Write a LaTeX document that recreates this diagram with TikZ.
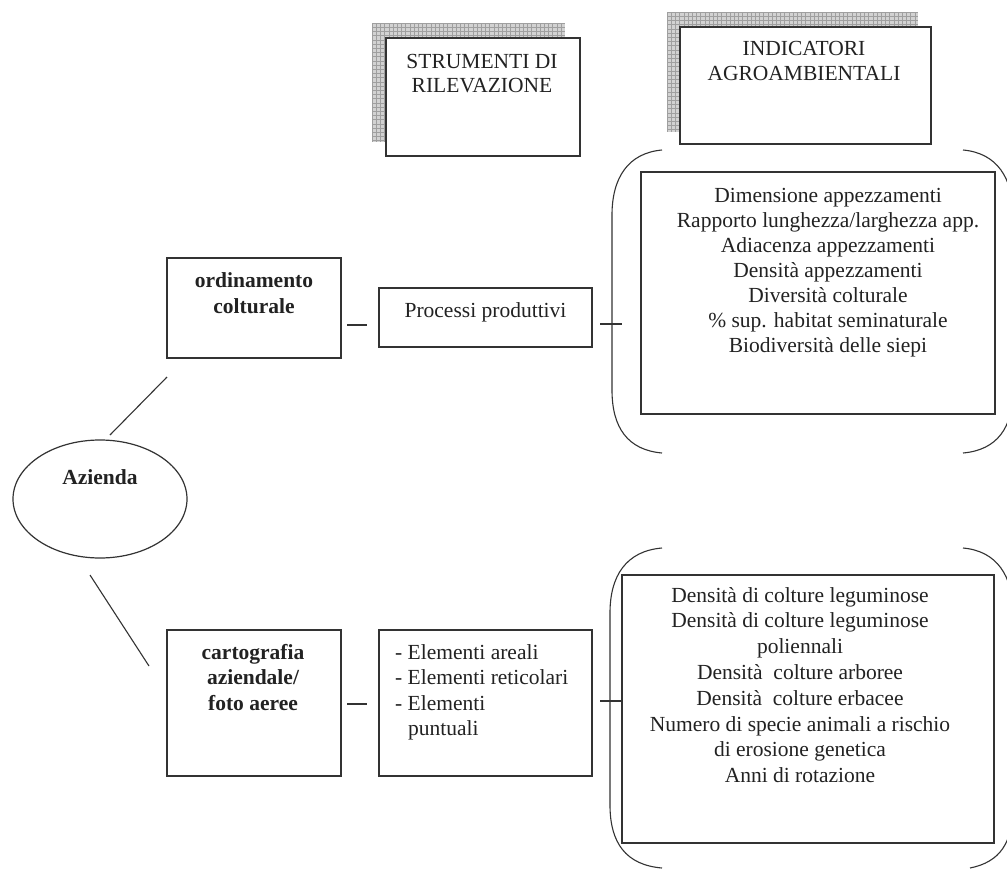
\documentclass[tikz,border=0pt]{standalone}
\usepackage{fontspec}
\setmainfont{Liberation Serif}
\usetikzlibrary{shapes.geometric}
\definecolor{ink}{HTML}{222222}
\definecolor{edge}{HTML}{333333}
\tikzset{
  boxnode/.style={draw=edge, line width=1.2pt, fill=white, rectangle, inner sep=0pt},
  txt/.style={text=ink, font=\fontsize{21.5}{25}\selectfont, inner sep=0pt, align=center, anchor=base},
  btxt/.style={txt, font=\fontsize{21.5}{26}\selectfont\bfseries},
  conn/.style={draw=edge, line width=1.1pt},
  shadowfill/.style={fill=gray!35},
  shadowgrid/.style={draw=gray!75, line width=0.6pt}
}
\begin{document}
\begin{tikzpicture}[x=1pt,y=-1pt]
\useasboundingbox (0,0) rectangle (1007,870);
\clip (0,0) rectangle (1007,870);
\fill[white] (0,0) rectangle (1007,870);

% header shadows
\coordinate (s1a) at (372,23); \coordinate (s1b) at (565,142);
\fill[shadowfill] (s1a) rectangle (s1b);
\foreach \xx in {372,376.2,...,565} \draw[shadowgrid] (\xx,23) -- (\xx,142);
\foreach \yy in {23,27.2,...,142} \draw[shadowgrid] (372,\yy) -- (565,\yy);
\coordinate (s2a) at (667,12); \coordinate (s2b) at (918,132);
\fill[shadowfill] (s2a) rectangle (s2b);
\foreach \xx in {667,671.2,...,918} \draw[shadowgrid] (\xx,12) -- (\xx,132);
\foreach \yy in {12,16.2,...,132} \draw[shadowgrid] (667,\yy) -- (918,\yy);

% header boxes (text anchor = baseline of last line)
\node[boxnode, minimum width=194pt, minimum height=118pt] (strum) at (483,97) {};
\node[txt, font=\fontsize{21.5}{24}\selectfont] (strumtxt) at (482,92) {STRUMENTI DI\\RILEVAZIONE};
\node[boxnode, minimum width=251pt, minimum height=117pt] (indic) at (805.5,85.5) {};
\node[txt] (indictxt) at (804,80) {INDICATORI\\AGROAMBIENTALI};

% Azienda
\node[draw=edge, line width=1.2pt, ellipse, minimum width=174pt, minimum height=118pt, inner sep=0pt] (az) at (100,499) {};
\node[btxt] (aztxt) at (100,484) {Azienda};

% upper row
\node[boxnode, minimum width=174pt, minimum height=100pt] (ord) at (254,308) {};
\node[btxt] (ordtxt) at (254,313) {ordinamento\\colturale};
\node[boxnode, minimum width=213pt, minimum height=59pt] (proc) at (485.5,317.5) {};
\node[txt] (proctxt) at (485.5,317) {Processi produttivi};
\node[boxnode, minimum width=354pt, minimum height=242pt] (ind1) at (818,293) {};
\node[txt] (ind1txt) at (828,352) {Dimensione appezzamenti\\Rapporto lunghezza/larghezza app.\\Adiacenza appezzamenti\\Densità appezzamenti\\Diversità colturale\\\% sup. habitat seminaturale\\Biodiversità delle siepi};

% lower row
\node[boxnode, minimum width=174pt, minimum height=146pt] (cart) at (254,703) {};
\node[btxt, font=\fontsize{21.5}{25.5}\selectfont\bfseries] (carttxt) at (253,710) {cartografia\\aziendale/\\foto aeree};
\node[boxnode, minimum width=213pt, minimum height=146pt] (elem) at (485.5,703) {};
\node[txt, align=left, anchor=base west, font=\fontsize{21.5}{25.5}\selectfont] (elemtxt) at (395,735.5) {- Elementi areali\\- Elementi reticolari\\- Elementi\\\hspace*{13pt}puntuali};
\node[boxnode, minimum width=372pt, minimum height=268pt] (ind2) at (808,709) {};
\node[txt, font=\fontsize{21.5}{25.8}\selectfont] (ind2txt) at (800,782.6) {Densità di colture leguminose\\Densità di colture leguminose\\poliennali\\Densità\ \ colture arboree\\Densità\ \ colture erbacee\\Numero di specie animali a rischio\\di erosione genetica\\Anni di rotazione};

% brackets
\draw[conn] (662,150) .. controls (628,153) and (612,178) .. (612,215) -- (612,390) .. controls (612,428) and (628,450) .. (662,453);
\draw[conn] (963,150) .. controls (997,153) and (1013,178) .. (1013,215) -- (1013,390) .. controls (1013,428) and (997,450) .. (963,453);
\draw[conn] (662,548) .. controls (626,551) and (610,576) .. (610,613) -- (610,805) .. controls (610,843) and (626,865) .. (662,868);
\draw[conn] (963,548) .. controls (997,551) and (1013,576) .. (1013,613) -- (1013,805) .. controls (1013,843) and (1000,862) .. (970,868);

% connectors
\coordinate (c1a) at (110,435); \coordinate (c1b) at (167,377);
\draw[conn] (c1a) -- (c1b);
\coordinate (c2a) at (90,575); \coordinate (c2b) at (149,666);
\draw[conn] (c2a) -- (c2b);
\coordinate (t1a) at (347,325); \coordinate (t1b) at (367,325);
\draw[conn] (t1a) -- (t1b);
\coordinate (t2a) at (600,324); \coordinate (t2b) at (622,324);
\draw[conn] (t2a) -- (t2b);
\coordinate (t3a) at (347,704); \coordinate (t3b) at (367,704);
\draw[conn] (t3a) -- (t3b);
\coordinate (t4a) at (600,701); \coordinate (t4b) at (622,701);
\draw[conn] (t4a) -- (t4b);
\end{tikzpicture}
\end{document}
